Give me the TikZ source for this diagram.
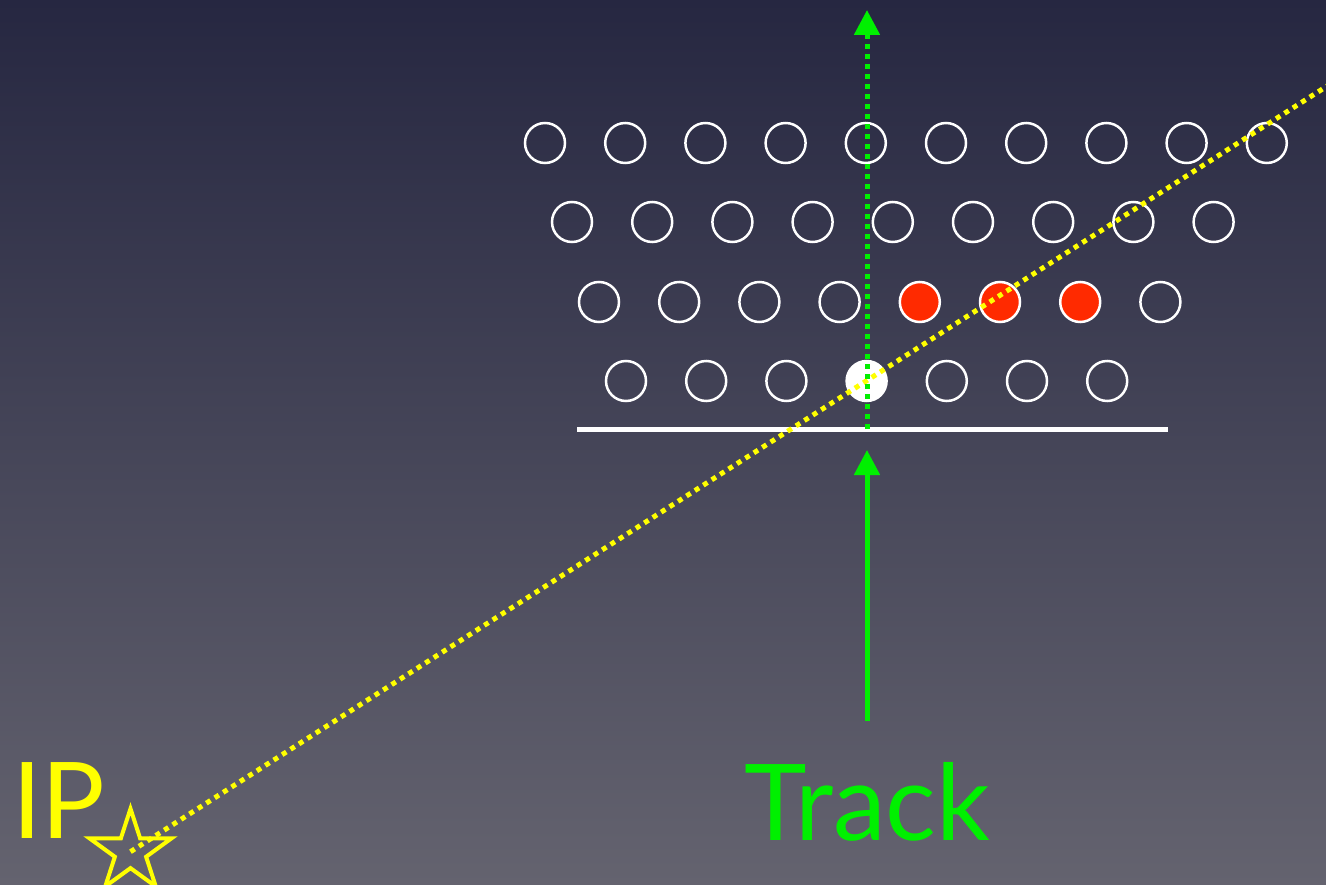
\documentclass[tikz,border=0pt]{standalone}
\usepackage{fontspec}
\setmainfont{Lato}
\usetikzlibrary{arrows.meta,shapes.geometric}
\definecolor{bgtop}{HTML}{262741}
\definecolor{bgbot}{HTML}{64636F}
\definecolor{trackgreen}{HTML}{00F000}
\definecolor{ipyellow}{HTML}{FFFF00}
\definecolor{hitred}{HTML}{FF2A00}
\tikzset{
  cell/.style={circle,draw=white,line width=2.5pt,minimum size=40pt,inner sep=0pt},
  hitcell/.style={cell,fill=hitred},
  seedcell/.style={cell,fill=white},
  ytrack/.style={draw=ipyellow,line width=5pt,dash pattern=on 5pt off 5pt},
  gtrack/.style={draw=trackgreen,line width=5pt},
  gdots/.style={gtrack,dash pattern=on 5pt off 5pt},
  gtip/.style={-{Triangle[width=25pt,length=25pt]}},
  biglabel/.style={font=\fontsize{106}{110}\selectfont,inner sep=0pt,anchor=base west}
}
\begin{document}
\begin{tikzpicture}[x=1pt,y=-1pt]
\shade[top color=bgtop,bottom color=bgbot] (0,0) rectangle (1326,885);
\useasboundingbox (0,0) rectangle (1326,885);
% rows of cells
\foreach \i in {0,...,9} \node[cell] (a\i) at (545+80.2*\i,143) {};
\foreach \i in {0,...,8} \node[cell] (b\i) at (572+80.2*\i,222) {};
\foreach \i in {0,1,2,3,7} \node[cell] (c\i) at (599+80.2*\i,302) {};
\foreach \i in {4,5,6} \node[hitcell] (c\i) at (599+80.2*\i,302) {};
\foreach \i in {0,1,2,4,5,6} \node[cell] (d\i) at (626+80.2*\i,381) {};
\node[seedcell] (d3) at (866.6,381) {};
% white layer line
\coordinate (wl) at (577,429);
\coordinate (wr) at (1168,429);
\draw[white,line width=5pt] (wl) -- (wr);
% yellow IP line
\node[star,star points=5,star point ratio=2.618,draw=ipyellow,line width=4pt,minimum size=86pt,inner sep=0pt] (star) at (130.5,851.7) {};
\coordinate (yend) at (1340,77.8);
\draw[ytrack] (star.center) -- (yend);
% green track
\coordinate (gbase) at (867,429);
\coordinate (gtop) at (867,10);
\coordinate (gstart) at (867,721);
\coordinate (gend) at (867,450);
\draw[gdots,gtip] (gbase) -- (gtop);
\draw[gtrack,gtip] (gstart) -- (gend);
% labels
\node[biglabel,text=ipyellow] (ip) at (12,838) {IP};
\node[biglabel,text=trackgreen] (track) at (744,840) {Track};
\end{tikzpicture}
\end{document}
